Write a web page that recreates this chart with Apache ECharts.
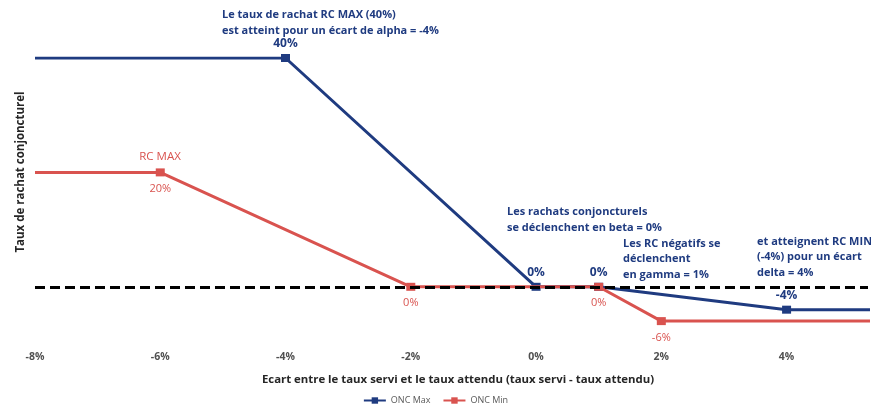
<!DOCTYPE html>
<html>
<head>
<meta charset="utf-8">
<script src="https://cdn.jsdelivr.net/npm/echarts@6/dist/echarts.min.js"></script>
<style>
  html, body { margin: 0; padding: 0; background: #fff; }
  #chart { width: 871px; height: 412px; }
</style>
</head>
<body>
<div id="chart"></div>
<script>
// Ecart (taux servi - taux attendu), en %
const ecartMax = [-8, -4, 0, 1, 4, 6];
const tauxMax  = [40, 40, 0, 0, -4, -4];
const ecartMin = [-8, -6, -2, 1, 2, 6];
const tauxMin  = [20, 20, 0, 0, -6, -6];

const xTicks = [-8, -6, -4, -2, 0, 2, 4];

// Libellés des points (null = pas d'étiquette)
const labelsMax = [null, '40%', '0%', '0%', '-4%', null];
const labelsMin = [null, '20%', '0%', '0%', '-6%', null];

const BLUE = '#1f3b80';
const RED = '#d9534f';
const FONT = '"Open Sans"';

const chart = echarts.init(document.getElementById('chart'));

// Les points extrêmes (bords du graphique) n'ont pas de marqueur
const buildData = (xs, ys, labels, color, pos, extraLabel) => xs.map((x, i) => ({
  value: [x, ys[i]],
  symbol: (i === 0 || i === xs.length - 1) ? 'none' : 'rect',
  label: labels[i] ? Object.assign({
    show: true, position: pos, formatter: labels[i], color, fontFamily: FONT
  }, extraLabel) : { show: false }
}));

const maxData = buildData(ecartMax, tauxMax, labelsMax, BLUE, 'top',
  { distance: 4, fontWeight: 'bold', fontSize: 12 });
const minData = buildData(ecartMin, tauxMin, labelsMin, RED, 'bottom',
  { distance: 7, fontSize: 11 });

const annotation = (left, top, lines, extra) => ({
  type: 'text', left, top, z: 100,
  style: Object.assign({
    text: lines.join('\n'), fill: BLUE, font: 'bold 11px ' + FONT, lineHeight: 16
  }, extra || {})
});

chart.setOption({
  animation: false,
  // L'axe est coupé au bord droit, vers +5,3 %
  grid: { left: 35, right: 0, top: 58, bottom: 68 },
  xAxis: {
    type: 'value', min: -8, max: 5.3, interval: 2,
    axisLine: { show: false }, axisTick: { show: false }, splitLine: { show: false },
    axisLabel: {
      formatter: v => xTicks.includes(v) ? v + '%' : '',
      color: '#505050', fontSize: 10.5, fontWeight: 'bold', fontFamily: FONT, margin: 8
    }
  },
  yAxis: {
    type: 'value', min: -10, max: 40,
    axisLine: { show: false }, axisTick: { show: false },
    splitLine: { show: false }, axisLabel: { show: false }
  },
  legend: {
    bottom: 2, left: 'center', itemWidth: 22, itemHeight: 8, itemGap: 12,
    textStyle: { color: '#595959', fontSize: 9, fontFamily: FONT },
    data: ['ONC Max', 'ONC Min']
  },
  graphic: [
    {
      type: 'text', z: 100, x: 21, y: 172, rotation: Math.PI / 2,
      style: { text: 'Taux de rachat conjoncturel', fill: '#262626', font: 'bold 11.5px ' + FONT,
               textAlign: 'center', textVerticalAlign: 'middle' }
    },
    {
      type: 'text', z: 100, x: 458, y: 380,
      style: { text: 'Ecart entre le taux servi et le taux attendu (taux servi - taux attendu)',
               fill: '#262626', font: 'bold 11.4px ' + FONT, textAlign: 'center', textVerticalAlign: 'middle' }
    },
    annotation(222, 7, ['Le taux de rachat RC MAX (40%)', 'est atteint pour un écart de alpha = -4%']),
    annotation(507, 204, ['Les rachats conjoncturels', 'se déclenchent en beta = 0%']),
    annotation(623, 236, ['Les RC négatifs se', 'déclenchent', 'en gamma = 1%'], { lineHeight: 15.5 }),
    annotation(757, 234, ['et atteignent RC MIN', '(-4%) pour un écart', 'delta = 4%'], { lineHeight: 15.5 }),
    {
      type: 'text', z: 100, x: 160, y: 157,
      style: { text: 'RC MAX', fill: RED, font: '11.5px ' + FONT, textAlign: 'center', textVerticalAlign: 'middle' }
    }
  ],
  series: [
    {
      name: 'zero', type: 'line', data: [], z: 1,
      markLine: {
        silent: true, symbol: 'none', label: { show: false },
        lineStyle: { color: '#000', width: 3, type: [10, 5] },
        data: [{ yAxis: 0 }]
      }
    },
    {
      name: 'ONC Max', type: 'line', data: maxData, z: 3,
      color: BLUE, symbol: 'rect', symbolSize: [9, 8], showAllSymbol: true,
      lineStyle: { width: 3, color: BLUE }, itemStyle: { color: BLUE }
    },
    {
      name: 'ONC Min', type: 'line', data: minData, z: 4,
      color: RED, symbol: 'rect', symbolSize: [9, 8], showAllSymbol: true,
      lineStyle: { width: 3, color: RED }, itemStyle: { color: RED }
    }
  ]
});
</script>
</body>
</html>
